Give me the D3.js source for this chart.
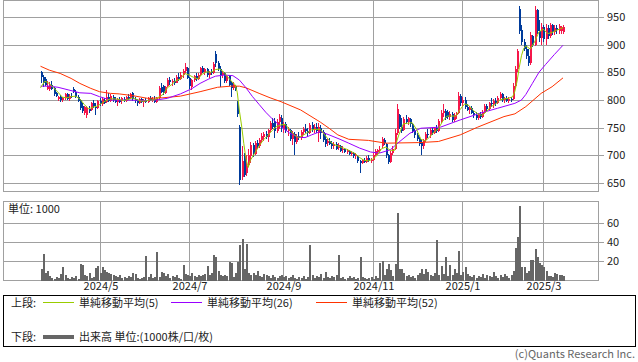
<!DOCTYPE html>
<html><head><meta charset="utf-8">
<script src="https://cdn.jsdelivr.net/npm/d3@7"></script>
<style>
html,body{margin:0;padding:0;background:#fff;}
svg{display:block;font-family:"Noto Sans CJK JP","Noto Sans",sans-serif;}
</style></head>
<body>
<svg id="c" width="638" height="362"></svg>
<script>
// ---- data (daily, 2024/3 .. 2025/3) ----
const tickIdx = [27, 68, 111, 152, 193, 230];
const tickLabels = ["2024/5", "2024/7", "2024/9", "2024/11", "2025/1", "2025/3"];
const priceTicks = [650, 700, 750, 800, 850, 900, 950];
const volTicks = [20, 40, 60];

// [open, high, low, close]
const ohlc = [
[850,852,830,841],[842,845,823,830],[838,841,826,828],[820,835,818,826],[819,833,817,827],
[828,834,818,820],[822,824,808,810],[812,815,805,808],[801,808,799,806],[805,809,797,800],
[800,806,796,803],[803,812,800,810],[810,812,800,802],[801,810,799,808],[808,813,804,805],
[820,823,812,814],[815,818,804,806],[806,809,796,798],[800,802,782,786],[790,795,776,780],
[776,790,772,788],[772,790,768,785],[784,790,776,780],[782,796,780,794],[794,800,786,790],
[788,795,773,785],[786,800,784,798],[798,803,790,793],[793,805,790,802],[800,804,792,795],
[796,818,794,806],[806,812,796,798],[798,810,796,808],[806,809,796,800],[800,806,794,796],
[797,804,790,802],[800,806,795,797],[798,805,793,803],[802,806,796,799],[799,808,797,806],
[805,810,800,802],[803,812,802,810],[812,814,798,801],[801,805,795,798],[798,802,790,795],
[795,803,793,801],[801,804,794,797],[796,802,788,800],[800,804,795,797],[797,806,795,804],
[804,807,798,800],[800,806,796,802],[802,808,795,797],[797,806,794,803],[803,826,801,822],
[824,830,812,815],[825,827,809,812],[812,826,810,824],[826,840,824,836],[836,842,828,832],
[832,838,826,835],[835,839,827,830],[831,845,830,842],[842,848,834,838],[838,850,836,846],
[846,856,840,852],[852,867,848,860],[858,860,838,840],[840,842,820,826],[824,838,818,836],
[836,846,832,844],[843,848,835,838],[838,848,836,846],[846,860,844,858],[858,862,848,851],
[850,858,846,856],[856,858,842,845],[845,852,840,850],[850,856,845,848],[849,868,847,865],
[884,888,860,866],[866,870,852,856],[856,862,824,845],[846,852,840,848],[848,850,830,834],
[834,846,830,844],[844,846,826,828],[830,834,805,822],[822,832,818,828],[826,828,816,818],
[795,798,770,775],[752,755,646,655],[660,716,655,690],[700,704,660,665],[668,700,662,680],
[682,712,680,700],[698,724,686,718],[718,722,697,702],[702,726,700,722],[722,728,712,716],
[716,732,714,728],[728,740,722,735],[734,742,726,738],[738,744,730,733],[733,748,724,745],
[746,762,742,758],[758,768,748,752],[762,768,731,744],[744,766,740,760],[760,775,748,770],
[768,773,742,750],[748,760,740,756],[756,760,740,744],[744,752,735,748],[746,748,726,730],
[730,744,718,740],[738,742,700,724],[724,738,720,735],[735,742,728,732],[732,746,728,742],
[742,752,736,748],[748,756,740,744],[744,750,734,740],[740,758,738,754],[754,760,742,746],
[746,756,740,752],[752,758,740,744],[740,758,724,752],[750,754,730,740],[742,746,725,728],
[730,740,715,720],[722,730,716,726],[726,732,718,720],[722,726,712,716],[716,724,712,720],
[720,724,710,712],[714,722,710,718],[716,718,706,708],[710,716,704,712],[712,714,704,706],
[706,712,702,710],[708,710,700,702],[702,708,698,705],[705,706,696,698],[698,704,694,700],
[698,700,686,690],[690,692,668,686],[686,694,684,692],[692,696,686,688],[688,698,686,696],
[696,700,688,690],[690,696,686,692],[692,704,690,700],[700,712,698,708],[706,712,700,710],
[708,716,704,712],[716,734,714,730],[728,732,718,722],[720,722,696,700],[700,702,684,688],
[688,708,686,704],[704,716,700,712],[712,748,710,740],[740,792,736,784],[772,775,748,752],
[752,768,740,744],[746,770,744,766],[766,772,756,760],[760,770,755,768],[766,768,752,756],
[756,758,740,744],[744,748,732,736],[736,740,726,730],[730,734,716,720],[724,728,700,716],
[716,730,712,728],[728,742,724,738],[738,748,732,736],[736,750,732,746],[746,750,736,740],
[740,752,738,750],[750,754,740,744],[744,766,742,762],[762,782,758,776],[776,792,770,780],
[780,784,764,768],[778,782,766,770],[770,780,764,774],[774,778,760,764],[764,776,760,772],
[772,778,766,776],[776,814,774,808],[808,810,790,794],[794,806,788,800],[800,805,784,788],
[788,792,780,782],[782,790,774,786],[786,790,774,776],[776,780,768,772],[772,778,764,768],
[768,776,764,774],[774,778,766,770],[770,782,768,778],[778,792,776,790],[790,792,780,784],
[784,796,782,794],[794,804,788,792],[792,802,786,798],[798,804,790,794],[794,808,792,804],
[804,814,800,810],[810,812,796,800],[800,806,794,804],[804,808,796,798],[798,806,794,802],
[802,806,796,800],[802,830,800,826],[826,862,822,856],[856,892,850,888],[965,970,920,925],
[926,936,900,905],[905,910,888,892],[892,900,875,880],[880,892,862,866],[866,922,864,918],
[915,918,895,900],[900,970,898,962],[962,964,920,925],[925,945,905,912],[912,940,900,932],
[932,936,905,910],[910,938,900,930],[930,935,910,915],[915,940,912,935],[935,938,918,922],
[922,935,918,930],[930,936,920,926],[924,938,920,934],[925,934,920,932],[922,936,920,932]
];

// volume, unit 1000
const volume = [
12,28,8,10,5,3,2,4,3,7, 14,6,3,2,4,3,5,2,17,16, 6,5,8,3,4,13,15,8,14,11,
9,8,7,6,5,4,6,3,4,3, 5,4,8,7,3,2,3,4,25,4, 7,3,4,30,4,9,8,5,7,3,
5,4,6,3,2,16,7,6,5,8, 5,4,6,5,6,7,15,6,8,26, 24,10,6,5,6,5,19,18,4,8,
19,37,43,12,38,8,6,8,6,10, 5,4,7,6,5,3,6,4,3,5, 6,4,5,3,4,6,3,2,4,3,
5,2,4,37,6,3,5,4,7,3, 9,4,3,5,4,6,26,3,4,2, 3,5,3,4,2,3,24,4,3,2,
3,4,2,5,3,18,20,6,12,17, 11,5,17,70,12,12,8,5,6,4, 5,3,6,8,12,7,12,9,6,5,
8,42,6,15,7,24,5,16,6,12, 8,31,6,9,14,7,5,4,6,3, 5,4,7,3,6,5,4,9,5,3,
6,4,7,5,3,6,10,34,45,77, 14,14,8,10,21,21,33,24,18,16, 14,10,5,5,4,8,7,6,6,5
];

// moving averages: [index, value]
const ma5 = [
[0,822],[2,834],[4,830],[6,822],[8,814],[10,805],[12,804],[14,806],[16,807],[18,802],
[20,792],[22,784],[24,787],[26,789],[28,794],[30,799],[32,802],[34,802],[36,801],[38,799],
[40,801],[42,804],[44,801],[46,798],[48,798],[50,800],[52,800],[54,805],[56,810],[58,822],
[60,828],[62,835],[64,838],[66,848],[68,845],[70,841],[72,838],[74,847],[76,851],[78,850],
[80,855],[82,856],[84,850],[86,840],[88,831],[89,828],[90,814],[91,780],[92,753],[93,721],
[94,693],[95,678],[96,691],[98,704],[100,717],[102,728],[104,736],[106,745],[108,752],[110,755],
[112,756],[114,746],[116,737],[118,732],[120,736],[122,741],[124,746],[126,747],[128,747],[130,737],
[132,727],[134,720],[136,717],[138,714],[140,711],[142,707],[144,703],[146,696],[148,691],[150,690],
[152,693],[154,700],[156,712],[158,715],[160,709],[162,709],[163,726],[164,738],[166,757],[168,758],
[170,759],[172,747],[174,729],[176,726],[178,733],[180,742],[182,748],[184,762],[186,771],[188,771],
[190,771],[192,783],[194,793],[196,790],[198,781],[200,775],[202,772],[204,779],[206,788],[208,792],
[210,800],[212,802],[214,803],[216,806],[217,816],[218,834],[219,859],[220,880],[221,893],[222,898],
[224,892],[226,905],[228,923],[230,928],[232,920],[234,922],[236,926],[238,929],[239,931]
];
const ma26 = [
[0,825],[4,825],[8,823],[13,818],[18,813],[23,812],[27,806],[32,800],[40,800],[48,799],
[53,800],[58,803],[64,811],[69,820],[73,830],[77,838],[80,843],[84,845],[88,844],[91,836],
[94,822],[97,806],[100,792],[103,778],[106,766],[110,752],[114,740],[118,733],[121,732],[124,737],
[128,743],[132,737],[137,729],[141,722],[146,713],[151,706],[155,704],[160,710],[164,724],[169,740],
[174,749],[183,751],[192,764],[201,776],[209,785],[217,794],[220,800],[222,810],[225,830],[228,850],
[231,864],[235,882],[239,899]
];
const ma52 = [
[0,861],[4,854],[9,848],[14,839],[18,830],[23,821],[27,815],[32,812],[36,811],[42,808],
[49,803],[56,804],[64,807],[73,815],[81,823],[87,825],[91,825],[94,822],[100,812],[105,804],
[110,797],[119,782],[128,760],[132,749],[136,737],[141,729],[150,727],[158,722],[173,723],[182,725],
[192,737],[200,751],[212,770],[217,775],[222,788],[229,812],[234,824],[239,840]
];

// ---- drawing ----
const svg = d3.select("#c");
const L = 3.5, R = 598.5;
const x = d3.scaleLinear().domain([0, ohlc.length - 1]).range([40.5, 563]);
const yP = d3.scaleLinear().domain([650, 950]).range([183, 17]);
const yV = d3.scaleLinear().domain([0, 60]).range([280.5, 222.7]);
const gridC = "#a0a0a0";
const UP = "#f5174a", DOWN = "#003b9b";
const px = i => Math.round(x(i));

// top panel grid
const topG = svg.append("g");
topG.selectAll(".hg").data(priceTicks).enter().append("line")
  .attr("x1", L).attr("x2", 604).attr("y1", d => Math.round(yP(d)) + 0.5).attr("y2", d => Math.round(yP(d)) + 0.5)
  .attr("stroke", gridC).attr("stroke-width", 1);
topG.selectAll(".vg").data(tickIdx).enter().append("line")
  .attr("x1", d => px(d) + 0.5).attr("x2", d => px(d) + 0.5).attr("y1", 0.5).attr("y2", 191.5)
  .attr("stroke", gridC);
topG.append("rect").attr("x", L).attr("y", 0.5).attr("width", R - L).attr("height", 191)
  .attr("fill", "none").attr("stroke", gridC);
topG.selectAll(".pl").data(priceTicks).enter().append("text")
  .attr("x", 607).attr("y", d => yP(d) + 4).attr("font-size", 11).attr("fill", "#222")
  .text(d => d);

// candles
const cg = svg.append("g").attr("shape-rendering", "crispEdges");
cg.selectAll(".wk").data(ohlc).enter().append("rect")
  .attr("x", (d, i) => px(i))
  .attr("width", 1)
  .attr("y", d => Math.round(yP(d[1])))
  .attr("height", d => Math.max(1, Math.round(yP(d[2])) - Math.round(yP(d[1]))))
  .attr("fill", d => d[3] >= d[0] ? UP : DOWN);
cg.selectAll(".bd").data(ohlc).enter().append("rect")
  .attr("x", (d, i) => px(i) - 0.5)
  .attr("width", 2)
  .attr("y", d => Math.round(yP(Math.max(d[0], d[3]))))
  .attr("height", d => Math.max(1, Math.round(yP(Math.min(d[0], d[3]))) - Math.round(yP(Math.max(d[0], d[3])))))
  .attr("fill", d => d[3] >= d[0] ? UP : DOWN);

// moving averages
const line = d3.line().x(d => x(d[0])).y(d => yP(d[1]));
[[ma52, "#ff3300"], [ma26, "#9900ff"], [ma5, "#99cc00"]].forEach(([s, c]) => {
  svg.append("path").attr("d", line(s)).attr("fill", "none").attr("stroke", c).attr("stroke-width", 1);
});

// bottom panel
const botG = svg.append("g");
botG.selectAll(".hg").data(volTicks).enter().append("line")
  .attr("x1", L).attr("x2", 604).attr("y1", d => Math.round(yV(d)) + 0.5).attr("y2", d => Math.round(yV(d)) + 0.5)
  .attr("stroke", gridC);
botG.selectAll(".vg").data(tickIdx).enter().append("line")
  .attr("x1", d => px(d) + 0.5).attr("x2", d => px(d) + 0.5).attr("y1", 201.5).attr("y2", 280.5)
  .attr("stroke", gridC);
botG.append("rect").attr("x", L).attr("y", 201.5).attr("width", R - L).attr("height", 79)
  .attr("fill", "none").attr("stroke", gridC);
botG.selectAll(".vl").data(volTicks).enter().append("text")
  .attr("x", 607).attr("y", d => yV(d) + 4).attr("font-size", 11).attr("fill", "#222").text(d => d);
botG.append("text").attr("x", 8).attr("y", 213).attr("font-size", 11).attr("fill", "#222").text("単位: 1000");
svg.append("g").attr("shape-rendering", "crispEdges").selectAll("rect").data(volume).enter().append("rect")
  .attr("x", (d, i) => px(i) - 0.5).attr("width", 2)
  .attr("y", d => yV(d)).attr("height", d => yV(0) - yV(d))
  .attr("fill", "#666");

// date labels
svg.selectAll(".dl").data(tickIdx).enter().append("text")
  .attr("x", d => px(d) + 1).attr("y", 290).attr("text-anchor", "middle")
  .attr("font-size", 11).attr("fill", "#222").text((d, i) => tickLabels[i]);

// legend
const lg = svg.append("g").attr("font-size", 11).attr("fill", "#222");
lg.append("rect").attr("x", 3.5).attr("y", 295.5).attr("width", 632).attr("height", 51)
  .attr("fill", "none").attr("stroke", "#000");
lg.append("text").attr("x", 11).attr("y", 307).text("上段:");
lg.append("text").attr("x", 11).attr("y", 341).text("下段:");
const legItems = [
  {x: 43, c: "#99cc00", t: "単純移動平均(5)"},
  {x: 171, c: "#9900ff", t: "単純移動平均(26)"},
  {x: 316, c: "#ff3300", t: "単純移動平均(52)"}
];
legItems.forEach(d => {
  lg.append("line").attr("x1", d.x).attr("x2", d.x + 31).attr("y1", 302.5).attr("y2", 302.5)
    .attr("stroke", d.c).attr("stroke-width", 1);
  lg.append("text").attr("x", d.x + 36).attr("y", 307).text(d.t);
});
lg.append("line").attr("x1", 43).attr("x2", 74).attr("y1", 337).attr("y2", 337)
  .attr("stroke", "#666").attr("stroke-width", 4);
lg.append("text").attr("x", 79).attr("y", 341).text("出来高 単位:(1000株/口/枚)");

svg.append("text").attr("x", 635).attr("y", 358).attr("text-anchor", "end")
  .attr("font-size", 11).attr("fill", "#666").text("(c)Quants Research Inc.");
</script>
</body></html>
